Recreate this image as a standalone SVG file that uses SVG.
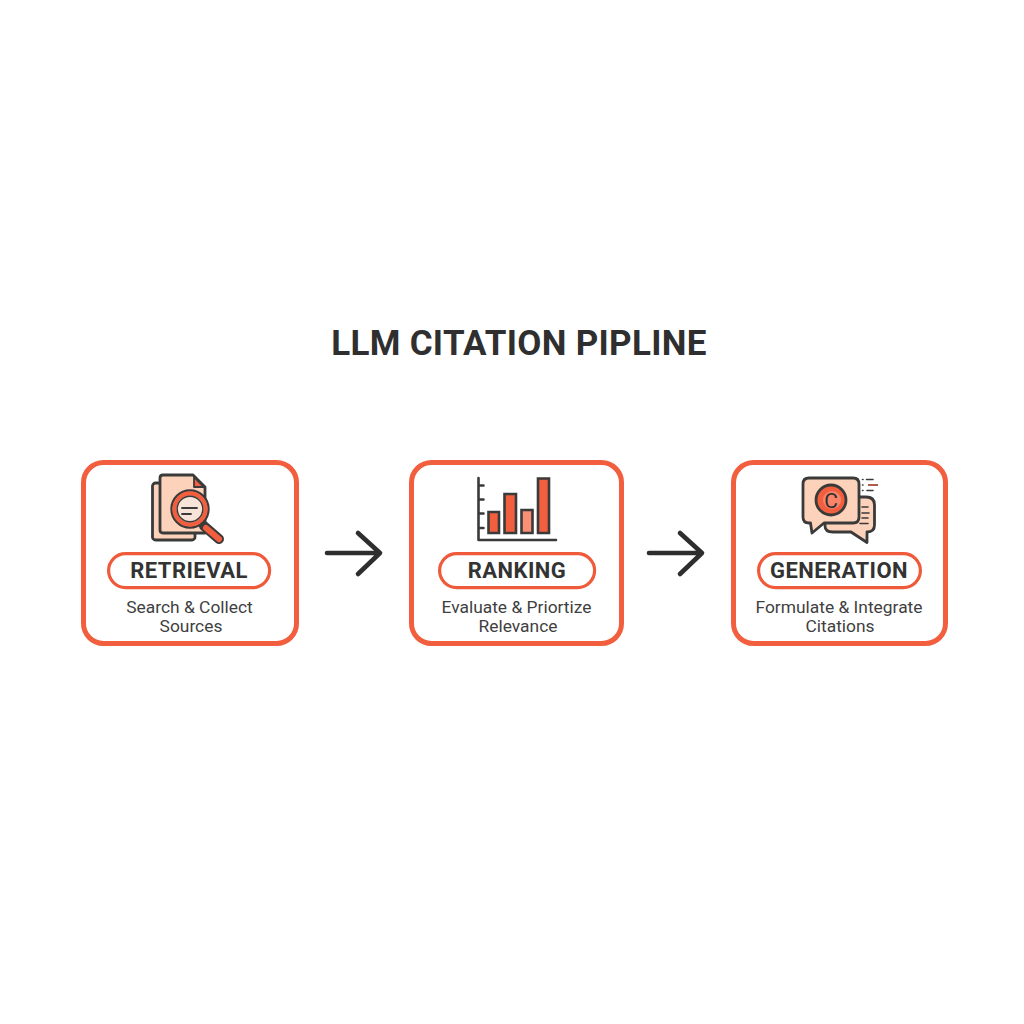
<svg xmlns="http://www.w3.org/2000/svg" width="1024" height="1024" viewBox="0 0 1024 1024">
<style>
.card{fill:#fff;stroke:#f25f3f;stroke-width:5}
.pill{fill:#fff;stroke:#ef5a3a;stroke-width:3.2}
.lab{font-family:Roboto,"Liberation Sans",sans-serif;font-weight:700;font-size:22px;fill:#333;text-anchor:middle;letter-spacing:.45px}
.sub{font-family:Roboto,"Liberation Sans",sans-serif;font-size:17.4px;fill:#3f3f3f;text-anchor:middle}
.ttl{font-family:Roboto,"Liberation Sans",sans-serif;font-weight:700;font-size:35px;fill:#2f2f2f;text-anchor:middle;letter-spacing:.3px}
.ln{fill:none;stroke:#3a3a3a;stroke-width:2.2;stroke-linecap:round;stroke-linejoin:round}
.pale{fill:#fdd2ba;stroke:#3a3a3a;stroke-width:2.8;stroke-linejoin:round}
.bar{fill:#f25f3f;stroke:#3a3a3a;stroke-width:2.6}
.arr{fill:none;stroke:#2e2e2e;stroke-width:4.6;stroke-linecap:round;stroke-linejoin:round}
</style>
<rect width="1024" height="1024" fill="#fff"/>
<text id="title" class="ttl" x="519" y="355">LLM CITATION PIPLINE</text>
<g id="connectors">
<path class="arr" d="M327 553H379M358 533L380 553L358 574"/>
<path class="arr" d="M649 553H701M680 533L702 553L680 574"/>
</g>
<g id="retrieval">
<rect class="card" x="83.500" y="462.500" width="213" height="181" rx="20"/>
<rect class="pale" x="152.500" y="483" width="42.500" height="57" rx="3"/>
<path class="pale" d="M163 475H193L205 487V533H163Q160 533 160 530V478Q160 475 163 475Z"/>
<path d="M194 477L204 487H194Z" fill="#f25f3f" stroke="#3a3a3a" stroke-width="1.800" stroke-linejoin="round"/>
<path d="M204 526L219 539" stroke="#3a3a3a" stroke-width="10" stroke-linecap="round"/>
<path d="M206 528L219 539" stroke="#f25f3f" stroke-width="6" stroke-linecap="round"/>
<circle cx="190" cy="509" r="18.500" fill="#f8e3d8" stroke="#3a3a3a" stroke-width="2.400"/>
<circle cx="190" cy="509" r="15.500" fill="none" stroke="#f25f3f" stroke-width="4.400"/>
<circle cx="190" cy="509" r="12.800" fill="none" stroke="#3a3a3a" stroke-width="1.400"/>
<path class="ln" d="M182 508H197M182 514H191" style="stroke-width:1.800"/>
<rect class="pill" x="108.600" y="553.600" width="161" height="34" rx="17"/>
<text class="lab" x="189" y="578">RETRIEVAL</text>
<text class="sub" x="189.500" y="613">Search &amp; Collect</text>
<text class="sub" x="191" y="632">Sources</text>
</g>
<g id="ranking">
<rect class="card" x="411.500" y="462.500" width="210" height="181" rx="20"/>
<path class="bar" d="M488.500 512H499V533H488.500Z"/>
<path class="bar" d="M504.500 494H516V533H504.500Z"/>
<path d="M521.500 510H532.500V533H521.500Z" fill="#f98f75" stroke="#3a3a3a" stroke-width="2.600"/>
<path class="bar" d="M538 478.500H549V533H538Z"/>
<path class="ln" d="M478.500 478V540H556M478.500 485.500H483.500M478.500 499.500H483.500M478.500 513.500H483.500M478.500 528H483.500" style="stroke-width:2.600"/>
<rect class="pill" x="439.600" y="553.600" width="155" height="34" rx="17"/>
<text class="lab" x="517" y="578">RANKING</text>
<text class="sub" x="516.500" y="613">Evaluate &amp; Priortize</text>
<text class="sub" x="518" y="632">Relevance</text>
</g>
<g id="generation">
<rect class="card" x="733.500" y="462.500" width="212" height="181" rx="20"/>
<path class="pale" d="M832 497H866Q874.500 497 874.500 505V525Q874.500 532 867 532V542.500L851 532H833Q825 532 825 526V505Q825 497 832 497Z"/>
<path class="pale" d="M809 478H853Q859 478 859 484V517Q859 523 853 523H824L812 533L810.500 523H809Q803 523 803 517V484Q803 478 809 478Z"/>
<circle cx="831" cy="500" r="15" fill="#f25f3f" stroke="#3a3a3a" stroke-width="2.800"/>
<circle cx="832" cy="500" r="9" fill="#f9846a"/>
<text x="831" y="507.500" font-family="Roboto,'Liberation Sans',sans-serif" font-size="21" fill="#2e2e2e" text-anchor="middle">C</text>
<path class="ln" d="M862.500 479.500H863M866.500 479.500H873M862.500 485H863M862.500 490.500H863M867 490.500H873M862 507H868M862 513H869M862 518H868M860 523.500H868" style="stroke-width:1.600"/>
<path d="M868 485H878" stroke="#a5493a" stroke-width="1.800"/>
<rect class="pill" x="758.600" y="553.600" width="161.800" height="34" rx="17"/>
<text class="lab" x="839" y="578">GENERATION</text>
<text class="sub" x="839" y="613">Formulate &amp; Integrate</text>
<text class="sub" x="840" y="632">Citations</text>
</g>
</svg>
